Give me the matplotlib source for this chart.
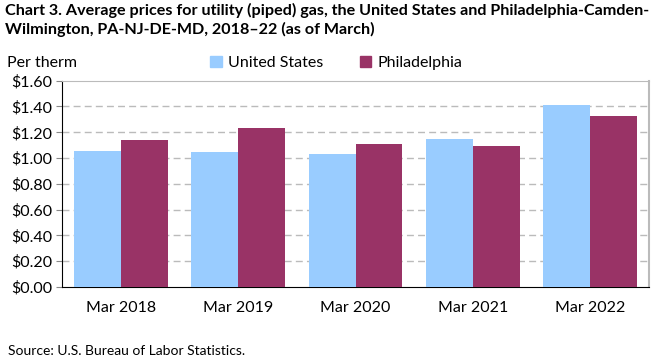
import matplotlib
matplotlib.use('Agg')
import matplotlib.pyplot as plt
import numpy as np
from matplotlib.patches import Patch

# Datos
categorias = ['Mar 2018', 'Mar 2019', 'Mar 2020', 'Mar 2021', 'Mar 2022']
estados_unidos = [1.055, 1.047, 1.034, 1.148, 1.414]
filadelfia = [1.140, 1.236, 1.111, 1.094, 1.329]
y_ticks = [0.0, 0.2, 0.4, 0.6, 0.8, 1.0, 1.2, 1.4, 1.6]

color_us = '#99ccff'
color_phl = '#993366'

plt.rcParams['font.family'] = ['Lato', 'DejaVu Sans']

fig = plt.figure(figsize=(6.61, 3.61), dpi=100)
ax = fig.add_axes([62 / 661, 1 - 287 / 361, 587 / 661, 206.3 / 361])

x = np.arange(len(categorias))
ancho = 0.4
ax.bar(x - ancho / 2, estados_unidos, ancho, color=color_us, zorder=3)
ax.bar(x + ancho / 2, filadelfia, ancho, color=color_phl, zorder=3)

ax.set_xlim(-0.5, len(categorias) - 0.5)
ax.set_ylim(0, 1.6)
ax.set_yticks(y_ticks)
ax.set_yticklabels([f'${v:.2f}' for v in y_ticks], fontsize=11.5)
ax.set_xticks(x)
ax.set_xticklabels(categorias, fontsize=11.5)
ax.tick_params(axis='x', length=0, pad=10)
ax.tick_params(axis='y', length=4, width=0.8, color='#888888', pad=3)

# Líneas de la cuadrícula
for v in y_ticks[1:-1]:
    ax.axhline(v, color='#bbbbbb', linestyle=(0, (5, 3)), linewidth=1, zorder=1)

ax.spines['left'].set_color('black')
ax.spines['bottom'].set_color('black')
ax.spines['top'].set_color('#bbbbbb')
ax.spines['right'].set_color('#bbbbbb')
ax.spines['right'].set_linewidth(1.5)

# Título
fig.text(5 / 661, 1 - 3 / 361,
         'Chart 3. Average prices for utility (piped) gas, the United States and Philadelphia-Camden-\n'
         'Wilmington, PA-NJ-DE-MD, 2018\u201322 (as of March)',
         fontsize=11.6, fontweight='bold', va='top', ha='left', linespacing=1.3)
fig.text(7 / 661, 1 - 63 / 361, 'Per therm', fontsize=11.5, va='center', ha='left')

# Leyenda
handles = [Patch(color=color_us, label='United States'), Patch(color=color_phl, label='Philadelphia')]
fig.legend(handles=handles, loc='center left', bbox_to_anchor=(196 / 661, 1 - 63 / 361),
           ncol=2, frameon=False, fontsize=11.5, handlelength=0.7, handleheight=0.7,
           handletextpad=0.4, columnspacing=2.3)

fig.text(8 / 661, 1 - 351 / 361, 'Source: U.S. Bureau of Labor Statistics.', fontsize=10,
         va='center', ha='left')

fig.savefig('out.png', dpi=100)
